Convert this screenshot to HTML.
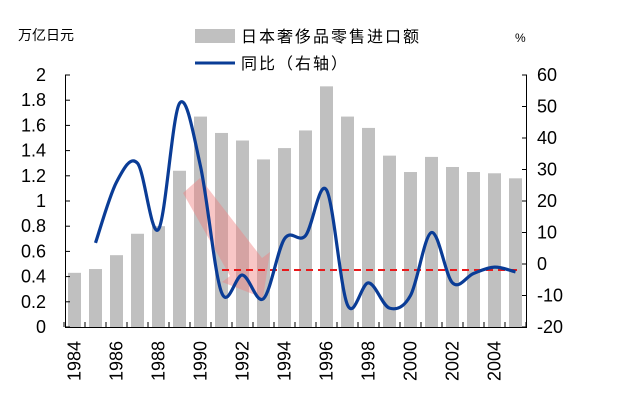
<!DOCTYPE html>
<html><head><meta charset="utf-8"><style>
body{margin:0;background:#fff;}
svg text{font-family:"Liberation Sans","Noto Sans CJK SC",sans-serif;}
</style></head><body>
<svg width="617" height="400" xmlns="http://www.w3.org/2000/svg">
<rect width="617" height="400" fill="#fff"/>
<g id="bars" fill="#c0c0c0"></g>
<polygon points="183,193 200,178 262,258 270,252 263,298 222,282 230,276" fill="#f08080" fill-opacity="0.45"/>
<line x1="222" y1="270" x2="522" y2="270" stroke="#e8191b" stroke-width="2" stroke-dasharray="7,5"/>
<path id="ln" fill="none" stroke="#0a3c96" stroke-width="3.2" stroke-linejoin="round"/>
<g stroke="#000" stroke-width="1" fill="none">
<line x1="65.5" y1="75" x2="65.5" y2="328"/>
<line x1="65" y1="327.5" x2="527" y2="327.5"/>
<line x1="526.5" y1="75" x2="526.5" y2="328"/>
</g>
<g id="ticks" stroke="#000" stroke-width="1"></g>
<g id="lab" font-size="18" fill="#000"></g>
<text x="18" y="40" font-size="14">万亿日元</text>
<text x="515" y="42" font-size="12">%</text>
<rect x="195" y="29" width="40" height="14" fill="#c0c0c0"/>
<text x="241" y="42" font-size="16" letter-spacing="2">日本奢侈品零售进口额</text>
<line x1="195" y1="63" x2="235" y2="63" stroke="#0a3c96" stroke-width="3"/>
<text x="241" y="69" font-size="16" letter-spacing="2">同比（右轴）</text>
</svg>
<script>
var ns="http://www.w3.org/2000/svg";
function el(t,a,p,txt){var e=document.createElementNS(ns,t);for(var k in a)e.setAttribute(k,a[k]);if(txt!==undefined)e.textContent=txt;document.getElementById(p).appendChild(e);return e;}
var v=[0.43,0.46,0.57,0.74,0.8,1.24,1.67,1.54,1.48,1.33,1.42,1.56,1.91,1.67,1.58,1.36,1.23,1.35,1.27,1.23,1.22,1.18];
function yl(x){return 327-x*126;}
function yr(x){return 327-(x+20)*3.15;}
function cx(i){return 74.5+i*21;}
v.forEach(function(b,i){el('rect',{x:cx(i)-6.5,y:yl(b),width:13,height:327-yl(b)},'bars');});
var g=[6.7,26,32,11,51,31,-9,-3.5,-11,8,9,23.5,-13,-6,-14,-10,10,-6,-3,-1,-2.5];
var p=g.map(function(t,i){return [cx(i+1),yr(t)];});
var d="M"+p[0][0]+","+p[0][1];
for(var i=0;i<p.length-1;i++){var p0=p[Math.max(i-1,0)],p1=p[i],p2=p[i+1],p3=p[Math.min(i+2,p.length-1)];
d+=" C"+(p1[0]+(p2[0]-p0[0])/6)+","+(p1[1]+(p2[1]-p0[1])/6)+" "+(p2[0]-(p3[0]-p1[0])/6)+","+(p2[1]-(p3[1]-p1[1])/6)+" "+p2[0]+","+p2[1];}
document.getElementById('ln').setAttribute('d',d);
for(var k=0;k<=10;k++){var y=yl(k*0.2);el('line',{x1:65,y1:y,x2:70,y2:y},'ticks');
el('text',{x:46,y:y+6,'text-anchor':'end'},'lab',(Math.round(k*2)/10).toString());}
for(var k=-20;k<=60;k+=10){var y=yr(k);el('line',{x1:522,y1:y,x2:527,y2:y},'ticks');
el('text',{x:537,y:y+6},'lab',k.toString());}
for(var i=0;i<=22;i++){var x=64+i*21;el('line',{x1:x,y1:322,x2:x,y2:327},'ticks');}
for(var yr2=1984;yr2<=2004;yr2+=2){var x=cx(yr2-1984)+6;el('text',{x:x,y:381,transform:'rotate(-90 '+x+' 381)'},'lab',yr2.toString());}
</script>
</body></html>
